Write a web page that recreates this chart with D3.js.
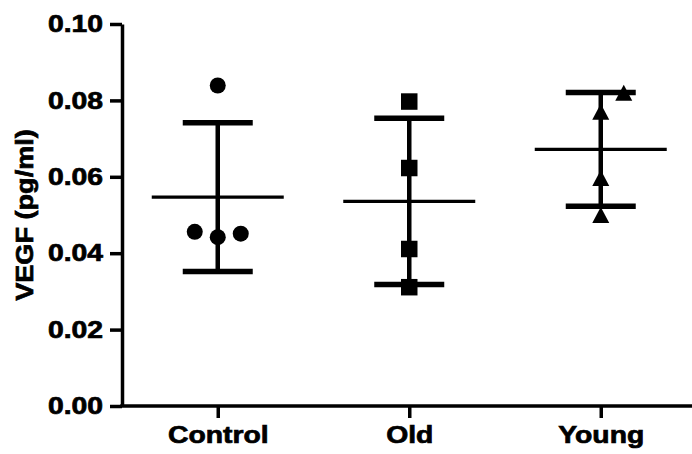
<!DOCTYPE html>
<html>
<head>
<meta charset="utf-8">
<script src="https://cdn.jsdelivr.net/npm/d3@7"></script>
<style>
  html, body { margin: 0; padding: 0; background: #fff; }
  svg { display: block; }
  text { font-family: "Liberation Sans", Arial, sans-serif; font-weight: bold; fill: #000; }
</style>
</head>
<body>
<svg id="chart" width="692" height="454"></svg>
<script>
// VEGF per group: individual measurements, group mean and ± SD
const categories = ["Control", "Old", "Young"];
const controlValues = [0.0839, 0.0456, 0.0442, 0.0451];
const oldValues = [0.0797, 0.0623, 0.0411, 0.0311];
const youngValues = [0.0820, 0.0770, 0.0597, 0.0500];
const yTicks = [0.00, 0.02, 0.04, 0.06, 0.08, 0.10];
const yLabel = "VEGF (pg/ml)";

const groups = [
  { name: categories[0], values: controlValues, shape: "circle" },
  { name: categories[1], values: oldValues, shape: "square" },
  { name: categories[2], values: youngValues, shape: "triangle" }
];

const width = 692, height = 454;
const margin = { top: 24, left: 122, bottom: 48 };
const svg = d3.select("#chart");
const fontSize = 24, stretch = 1.18, titleStretch = 1.13;

const y = d3.scaleLinear().domain([0, 0.10]).range([height - margin.bottom, margin.top]);
const x = d3.scalePoint().domain(categories).range([margin.left, margin.left + 3 * 191.5]).padding(0.5);

// Axes
const yAxis = svg.append("g")
  .attr("transform", `translate(${margin.left},0)`)
  .call(d3.axisLeft(y).tickValues(yTicks).tickFormat(d3.format(".2f")).tickSize(12).tickSizeOuter(0).tickPadding(7));

const xAxis = svg.append("g")
  .attr("transform", `translate(0,${y(0)})`)
  .call(d3.axisBottom(x).tickSize(12).tickSizeOuter(0).tickPadding(8));

xAxis.select(".domain").attr("d", `M${margin.left - 1.75},0H${width + 10}`);

[yAxis, xAxis].forEach(g => {
  g.select(".domain").attr("stroke", "#000").attr("stroke-width", 3.5);
  g.selectAll(".tick line").attr("stroke", "#000").attr("stroke-width", 3.5);
  g.selectAll(".tick text")
    .attr("font-size", fontSize)
    .style("font-family", '"Liberation Sans", Arial, sans-serif')
    .style("font-weight", "bold")
    .attr("fill", "#000")
    .attr("stroke", "#000")
    .attr("stroke-width", 0.7);
});

// wide lettering: stretch labels horizontally around their anchor
yAxis.selectAll(".tick text").each(function () {
  const t = d3.select(this);
  const x0 = +t.attr("x");
  t.attr("x", x0 / stretch).attr("transform", `scale(${stretch},1)`);
});
xAxis.selectAll(".tick text").attr("transform", `scale(${stretch},1)`);

svg.append("text")
  .attr("transform", `translate(33,${(y(0) + y(0.10)) / 2}) rotate(-90) scale(${titleStretch},1)`)
  .attr("text-anchor", "middle")
  .attr("font-size", fontSize)
  .attr("stroke", "#000")
  .attr("stroke-width", 0.7)
  .text(yLabel);

// Spread overlapping points sideways, lowest value placed first
const collide = 24, spacing = 23;
function spread(values) {
  const order = d3.range(values.length).sort((a, b) => values[a] - values[b]);
  const placed = [];
  const offsets = new Array(values.length).fill(0);
  order.forEach(i => {
    const py = y(values[i]);
    for (let k = 0; k < 10; k++) {
      const slot = k === 0 ? 0 : (k % 2 === 1 ? (k + 1) / 2 : -k / 2);
      const clash = placed.some(p => p.slot === slot && Math.abs(p.py - py) < collide);
      if (!clash) { placed.push({ slot, py }); offsets[i] = slot * spacing; break; }
    }
  });
  return offsets;
}

function symbolPath(shape) {
  if (shape === "circle") return d3.symbol().type(d3.symbolCircle).size(Math.PI * 8 * 8)();
  if (shape === "square") return d3.symbol().type(d3.symbolSquare).size(16.5 * 16.5)();
  return "M0,-8L8.5,8L-8.5,8Z";
}

const g = svg.append("g");
groups.forEach(grp => {
  const cx = x(grp.name);
  const offs = spread(grp.values);
  const m = d3.mean(grp.values);
  const sd = d3.deviation(grp.values);

  g.selectAll(null).data(grp.values).enter().append("path")
    .attr("d", symbolPath(grp.shape))
    .attr("transform", (d, i) => `translate(${cx + offs[i]},${y(d)})`)
    .attr("fill", "#000");

  // SD stem and caps
  g.append("line").attr("x1", cx).attr("x2", cx).attr("y1", y(m + sd)).attr("y2", y(m - sd))
    .attr("stroke", "#000").attr("stroke-width", 4.5);
  [m + sd, m - sd].forEach(v => {
    g.append("line").attr("x1", cx - 35).attr("x2", cx + 35).attr("y1", y(v)).attr("y2", y(v))
      .attr("stroke", "#000").attr("stroke-width", 5.5);
  });
  // mean
  g.append("line").attr("x1", cx - 66).attr("x2", cx + 66).attr("y1", y(m)).attr("y2", y(m))
    .attr("stroke", "#000").attr("stroke-width", 3.3);
});
</script>
</body>
</html>
